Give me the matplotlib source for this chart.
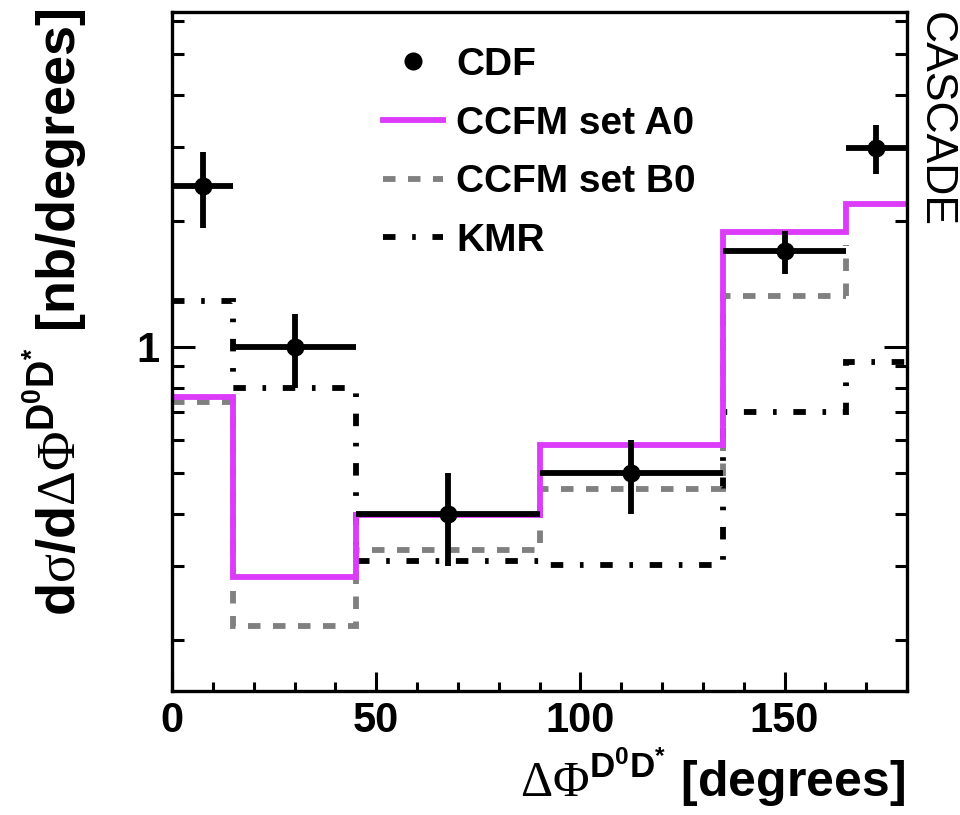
import numpy as np
import matplotlib
matplotlib.use('Agg')
import matplotlib.pyplot as plt
from matplotlib.lines import Line2D
from matplotlib.ticker import FixedLocator, NullFormatter

plt.rcParams['font.family'] = ['Liberation Sans', 'DejaVu Sans']
plt.rcParams['mathtext.fontset'] = 'custom'
plt.rcParams['mathtext.rm'] = 'Liberation Serif'
plt.rcParams['mathtext.sf'] = 'Liberation Sans:bold'
plt.rcParams['mathtext.bf'] = 'Liberation Sans:bold'
plt.rcParams['lines.scale_dashes'] = False

# bin edges in delta phi (degrees)
edges = [0, 15, 45, 90, 135, 165, 180]

# CDF measurement
cdf_x = [7.5, 30, 67.5, 112.5, 150, 172.5]
cdf_xerr = [7.5, 15, 22.5, 22.5, 15, 7.5]
cdf_y = [2.42, 1.0, 0.40, 0.50, 1.69, 2.98]
cdf_yerr = [0.5, 0.2, 0.1, 0.1, 0.2, 0.4]

# CASCADE predictions
ccfm_a0 = [0.76, 0.283, 0.397, 0.585, 1.88, 2.19]
ccfm_b0 = [0.74, 0.216, 0.328, 0.458, 1.32, 1.75]
kmr = [1.29, 0.80, 0.309, 0.302, 0.70, 0.92]

magenta = '#dc3cfa'
grey = '#808080'
lw = 4.2
dash_b0 = (0, (9, 9))
dash_kmr = (0, (9, 12, 2.6, 12))

fig = plt.figure(figsize=(9.6, 8.15), dpi=100)
ax = fig.add_axes([172/960, 1-691/815, 735/960, 679/815])

ax.stairs(kmr, edges, baseline=None, color='black', lw=lw, linestyle=dash_kmr)
# B0 last bin only shows its rising edge
ax.stairs(ccfm_b0[:5], edges[:6], baseline=None, color=grey, lw=lw, linestyle=dash_b0)
ax.vlines(edges[5], ccfm_b0[4], ccfm_b0[5], color=grey, lw=lw, linestyle=dash_b0)
ax.stairs(ccfm_a0, edges, baseline=None, color=magenta, lw=lw)
ax.errorbar(cdf_x, cdf_y, xerr=cdf_xerr, yerr=cdf_yerr, fmt='o', color='black',
            ms=12, elinewidth=lw, capsize=0, zorder=5)

ax.set_yscale('log')
ax.set_xlim(0, 180)
ax.set_ylim(0.151, 6.3)

ax.yaxis.set_major_locator(FixedLocator([1]))
ax.yaxis.set_minor_locator(FixedLocator([0.2, 0.3, 0.4, 0.5, 0.6, 0.7, 0.8, 0.9,
                                         2, 3, 4, 5, 6]))
ax.yaxis.set_minor_formatter(NullFormatter())
ax.set_yticklabels(['1'])
ax.set_xticks([0, 50, 100, 150])
ax.xaxis.set_minor_locator(FixedLocator(np.arange(0, 181, 10)))

for s in ax.spines.values():
    s.set_linewidth(2.4)
ax.tick_params(axis='both', which='both', direction='in', width=2.2)
ax.tick_params(axis='y', which='both', right=True)
ax.tick_params(axis='y', which='major', length=16.5, pad=9)
ax.tick_params(axis='y', which='minor', length=8.6)
ax.tick_params(axis='x', which='major', length=14, pad=7)
ax.tick_params(axis='x', which='minor', length=6.5)
for lab in ax.get_xticklabels() + ax.get_yticklabels():
    lab.set_fontsize(30)
    lab.set_fontweight('bold')

handles = [
    Line2D([], [], marker='o', color='black', ms=12, linestyle='none'),
    Line2D([], [], color=magenta, lw=lw),
    Line2D([], [], color=grey, lw=lw, linestyle=dash_b0),
    Line2D([], [], color='black', lw=lw, linestyle=dash_kmr),
]
labels = ['CDF', 'CCFM set A0', 'CCFM set B0', 'KMR']
ax.legend(handles, labels, loc='upper left', bbox_to_anchor=(0.26, 0.977),
          frameon=False, borderpad=0, handlelength=1.55, handletextpad=0.35,
          labelspacing=0.58, prop={'size': 28, 'weight': 'bold'})

fig.text(55/960, 1-8/815,
         r'd$\mathrm{\sigma}$/d$\mathrm{\Delta\Phi}^{\mathsf{D^{0}D^{*}}}$ [nb/degrees]',
         rotation=90, ha='center', va='top', fontsize=39, fontweight='bold')
fig.text(905/960, 6/815,
         r'$\mathrm{\Delta\Phi}^{\mathsf{D^{0}D^{*}}}$ [degrees]',
         ha='right', va='bottom', fontsize=36, fontweight='bold')
fig.text(935/960, 1-12/815, 'CASCADE', rotation=-90, ha='center', va='top',
         fontsize=32)

fig.savefig('out.png', dpi=100)
